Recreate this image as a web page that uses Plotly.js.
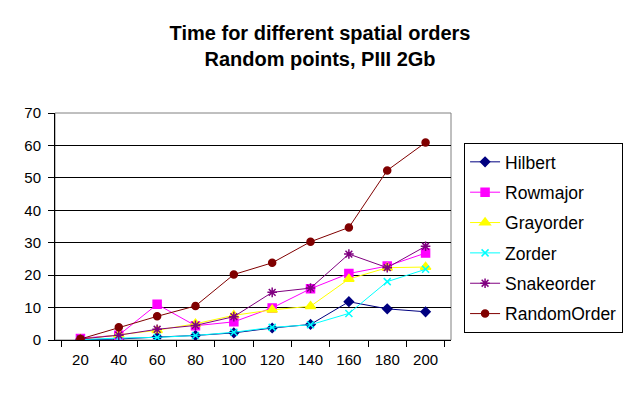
<!DOCTYPE html>
<html><head><meta charset="utf-8">
<script src="https://cdn.plot.ly/plotly-3.0.1.min.js"></script>
<style>body{margin:0;background:#fff}#c{width:640px;height:400px}</style>
</head><body><div id="c"></div>
<script>
const categories = ['20','40','60','80','100','120','140','160','180','200'];
const hilbert     = [0.1, 0.3, 0.9, 1.4, 2.2, 3.7, 4.8, 11.8, 9.6, 8.7];
const rowmajor    = [0.5, 1.5, 11.0, 4.4, 5.6, 9.9, 15.8, 20.5, 22.8, 26.8];
const grayorder   = [0.2, 1.6, 3.0, 5.0, 7.6, 9.3, 10.4, 18.8, 22.3, 22.5];
const zorder      = [0.1, 0.6, 0.8, 1.4, 2.4, 3.9, 4.7, 8.2, 18.0, 21.8];
const snakeorder  = [0.3, 1.5, 3.3, 4.5, 7.2, 14.7, 16.0, 26.5, 22.3, 28.9];
const randomorder = [0.3, 3.9, 7.3, 10.5, 20.2, 23.8, 30.3, 34.7, 52.3, 60.9];

const series = [
  {name:'Hilbert', y:hilbert, color:'#000080', symbol:'diamond', size:7},
  {name:'Rowmajor', y:rowmajor, color:'#FF00FF', symbol:'square', size:8},
  {name:'Grayorder', y:grayorder, color:'#FFFF00', symbol:'triangle-up', size:9},
  {name:'Zorder', y:zorder, color:'#00FFFF', symbol:'x-thin-open', size:7},
  {name:'Snakeorder', y:snakeorder, color:'#800080', symbol:'asterisk-open', size:8},
  {name:'RandomOrder', y:randomorder, color:'#800000', symbol:'circle', size:7}
];
const traces = series.map((s,i)=>({
  type:'scatter', mode:'lines+markers', x:categories, y:s.y, name:s.name,
  legendgroup:'g'+i,
  line:{color:s.color, width:1},
  marker:{color:s.color, symbol:s.symbol, size:s.size, line:{color:s.color, width:1.5}}
}));
const font = {family:'Liberation Sans, Arial, sans-serif', color:'#000'};
Plotly.newPlot('c', traces, {
  width:640, height:400,
  paper_bgcolor:'#fff', plot_bgcolor:'#fff',
  margin:{l:55, r:189, t:113, b:60},
  title:{text:'<b>Time for different spatial orders<br>Random points, PIII 2Gb</b>',
    x:0.5, xref:'container', xanchor:'center', y:0.90, yref:'container', yanchor:'top',
    font:Object.assign({size:20}, font)},
  font:Object.assign({size:15}, font),
  showlegend:true,
  legend:{x:1.033, xanchor:'left', y:0.868, yanchor:'top', bordercolor:'#000', borderwidth:1,
    bgcolor:'#fff', font:Object.assign({size:17.5}, font), tracegroupgap:4.6, traceorder:'grouped'},
  xaxis:{type:'category', tickson:'boundaries', ticks:'outside', ticklen:6, tickcolor:'#000',
    showline:true, linecolor:'#000', linewidth:1, showgrid:false, mirror:false,
    ticklabelstandoff:6,
    tickfont:Object.assign({size:15}, font), fixedrange:true},
  yaxis:{range:[0,70], dtick:10, ticks:'outside', ticklen:6, tickcolor:'#000',
    showline:true, linecolor:'#000', showgrid:true, gridcolor:'#000', gridwidth:1,
    ticklabelstandoff:4,
    zeroline:false, tickfont:Object.assign({size:15}, font), fixedrange:true},
  shapes:[{type:'rect', xref:'paper', yref:'paper', x0:0, x1:1, y0:0, y1:1, line:{color:'#808080', width:1}, layer:'below'}]
}, {staticPlot:true});
</script></body></html>
